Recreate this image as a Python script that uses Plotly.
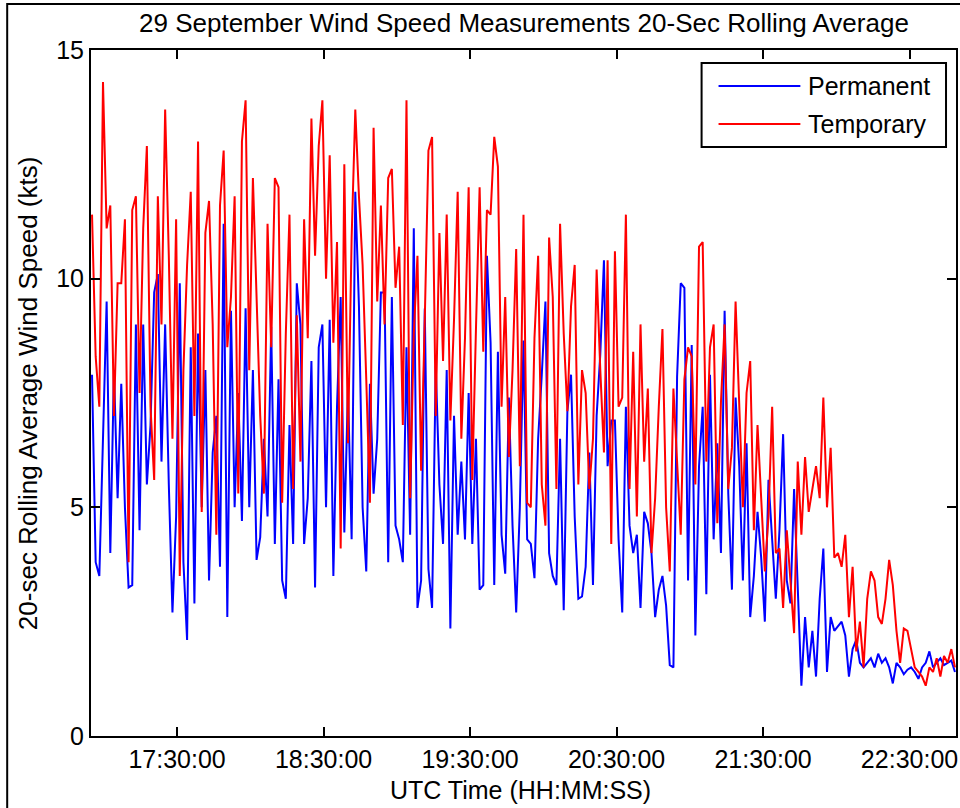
import pandas as pd
import plotly.graph_objects as go

# ---------------- data (kts) ----------------
t_first = "2000-09-29 16:55:10"
t_last = "2000-09-29 22:48:37"
x_range = ["2000-09-29 16:54:45", "2000-09-29 22:49:02"]

tick_times = ["2000-09-29 17:30:00", "2000-09-29 18:30:00", "2000-09-29 19:30:00",
              "2000-09-29 20:30:00", "2000-09-29 21:30:00", "2000-09-29 22:30:00"]
y_ticks = [0, 5, 10, 15]

temp_1 = [11.4, 8.3, 7.2, 14.3, 11.1, 11.6, 7.0, 9.9, 9.9, 11.3, 3.8, 11.5, 11.8, 7.5, 11.1,
          12.9, 7.2, 5.6, 11.8, 9.0, 13.7, 10.5, 6.5, 11.3, 3.5, 8.0, 10.3, 11.9, 7.0, 13.0,
          4.9, 11.0, 11.7, 9.0, 4.4, 11.6, 12.8, 8.5, 9.6, 11.8, 5.3]
perm_1 = [7.9, 3.8, 3.5, 6.5, 9.5, 4.0, 8.0, 5.2, 7.7, 5.0, 3.25, 3.3, 9.0, 4.5, 9.0,
          5.5, 6.8, 9.7, 10.1, 6.0, 9.0, 5.5, 2.7, 4.8, 9.9, 3.8, 2.1, 8.5, 2.9, 8.8,
          5.0, 8.0, 3.4, 6.2, 7.0, 3.7, 11.2, 2.6, 9.3, 5.0, 7.5]

temp_2 = [13.0, 13.9, 8.0, 12.2, 9.5, 7.0, 5.3, 11.2, 8.5, 12.2, 12.0, 5.1, 8.8, 11.4, 5.4,
          9.2, 6.0, 11.3, 8.7, 13.5, 10.5, 12.9, 13.9, 10.0, 12.7, 8.6, 10.8, 4.1, 12.5, 6.4,
          10.9, 13.7, 11.8, 10.3, 7.8, 5.1, 13.3, 9.5, 11.6]
perm_2 = [4.7, 9.35, 5.0, 8.0, 3.85, 4.35, 6.5, 4.8, 8.95, 4.2, 7.8, 3.4, 3.0, 6.8, 4.2,
          9.9, 9.0, 4.2, 5.2, 8.2, 3.25, 8.5, 9.0, 5.0, 9.1, 3.5, 7.2, 9.6, 4.45, 7.6,
          4.3, 11.9, 9.4, 5.0, 3.6, 7.7, 5.3, 6.5, 9.7]

temp_3 = [9.0, 12.2, 12.4, 9.8, 10.7, 6.8, 13.9, 5.2, 8.8, 10.5, 5.8, 9.1, 12.8, 13.1, 7.0,
          11.0, 8.2, 11.4, 6.9, 9.1, 11.9, 6.5, 8.7, 12.0, 5.6, 8.9, 12.0, 8.4, 11.5, 11.4,
          13.1, 12.45, 7.2, 9.6, 6.1, 8.0, 10.65, 5.9, 11.4, 5.1]
perm_3 = [9.7, 3.8, 9.6, 4.6, 4.3, 3.8, 8.5, 4.4, 11.1, 2.8, 3.4, 9.35, 3.65, 2.8, 8.1,
          5.5, 4.2, 8.0, 2.35, 7.0, 4.4, 6.0, 4.3, 7.5, 4.2, 6.5, 3.2, 3.3, 10.5, 8.6,
          3.3, 8.4, 4.4, 3.55, 7.4, 4.6, 2.7, 5.0, 8.65, 4.3]

temp_4 = [5.0, 8.7, 10.5, 5.5, 4.6, 10.9, 9.6, 5.4, 11.2, 8.8, 7.1, 9.4, 10.3, 5.5, 8.0,
          7.5, 5.4, 6.5, 10.2, 8.0, 6.2, 10.4, 4.2, 10.6, 7.2, 7.4, 11.4, 5.4, 8.4, 4.8,
          9.0, 6.0, 7.6, 4.0, 5.2, 7.2, 8.9, 5.0, 3.6]
perm_4 = [4.2, 3.45, 6.5, 7.9, 9.5, 4.0, 3.5, 3.3, 6.5, 2.75, 7.1, 7.9, 4.8, 3.0, 3.05,
          3.7, 6.2, 3.3, 7.0, 8.35, 10.4, 5.9, 6.9, 6.9, 4.3, 2.7, 7.2, 4.6, 4.0, 4.4,
          2.8, 4.9, 4.65, 4.0, 2.6, 3.2, 3.5, 2.85, 1.55]

temp_5 = [7.6, 6.0, 4.4, 7.8, 8.5, 8.3, 5.5, 10.7, 10.8, 6.0, 8.5, 9.0, 4.65, 7.3, 9.0,
          5.4, 6.3, 9.5, 7.0, 5.0, 7.5, 8.2, 4.5, 6.8, 5.2, 3.6, 4.8, 7.2, 4.0, 4.1,
          2.8, 4.5, 3.4, 2.25, 6.0, 4.4, 6.1, 4.9, 5.4, 5.9]
perm_5 = [1.5, 7.85, 9.9, 9.8, 3.4, 8.55, 2.2, 5.9, 7.2, 3.1, 7.9, 4.3, 6.4, 4.0, 9.3,
          5.3, 3.2, 7.4, 5.9, 3.4, 6.4, 2.6, 3.5, 4.9, 3.9, 2.5, 5.6, 4.3, 3.0, 4.5,
          6.6, 3.4, 2.9, 5.4, 3.4, 1.1, 2.6, 1.5, 2.3, 1.3]

temp_6 = [5.2, 7.4, 5.0, 6.3, 3.9, 4.0, 3.7, 4.4, 2.6, 3.7, 1.85, 2.5, 1.5, 3.0, 3.6,
          3.4, 2.6, 2.45, 3.0, 3.85, 3.3, 2.3, 1.6, 2.35, 2.3, 1.9, 1.5, 1.4, 1.3, 1.1,
          1.5, 1.4, 1.7, 1.3, 1.75, 1.6, 1.9, 1.5]
perm_6 = [3.0, 4.1, 1.4, 2.6, 2.3, 2.4, 2.5, 2.2, 1.3, 1.9, 2.1, 1.6, 1.5, 1.6, 1.7,
          1.5, 1.8, 1.6, 1.7, 1.5, 1.15, 1.6, 1.5, 1.35, 1.45, 1.5, 1.4, 1.25, 1.5, 1.6,
          1.85, 1.5, 1.6, 1.7, 1.55, 1.6, 1.65, 1.4]

permanent = perm_1 + perm_2 + perm_3 + perm_4 + perm_5 + perm_6
temporary = temp_1 + temp_2 + temp_3 + temp_4 + temp_5 + temp_6
times = pd.date_range(t_first, t_last, periods=len(permanent))

# ---------------- layout geometry ----------------
W, H = 960, 808
L, R, T, B = 91, 2, 50, 72
PW, PH = W - L - R, H - T - B


def px(x):
    return (x - L) / PW


def py(y):
    return (H - B - y) / PH


FONT = "Liberation Sans, Arial, Helvetica, sans-serif"
FS = 25
FS_BIG = 26

fig = go.Figure()
fig.add_trace(go.Scatter(x=times, y=permanent, mode="lines", name="Permanent",
                         line=dict(color="#0000FF", width=2)))
fig.add_trace(go.Scatter(x=times, y=temporary, mode="lines", name="Temporary",
                         line=dict(color="#FF0000", width=2)))

axis_common = dict(showline=True, linecolor="black", linewidth=2, mirror="ticks",
                   ticks="inside", ticklen=9, tickwidth=1.5, tickcolor="black",
                   showgrid=False, zeroline=False,
                   tickfont=dict(family=FONT, size=FS, color="black"))

fig.update_xaxes(type="date", range=x_range, tickvals=tick_times,
                 tickformat="%H:%M:%S", **axis_common)
fig.update_yaxes(range=[0, 15], tickvals=y_ticks, **axis_common)

shapes = [
    # outer figure frame
    dict(type="rect", xref="paper", yref="paper", x0=px(7), x1=px(968), y0=py(815), y1=py(4),
         line=dict(color="black", width=2), fillcolor="rgba(0,0,0,0)"),
    # legend box
    dict(type="rect", xref="paper", yref="paper", x0=px(703), x1=px(948), y0=py(147), y1=py(63),
         line=dict(color="black", width=2), fillcolor="white"),
    dict(type="line", xref="paper", yref="paper", x0=px(720), x1=px(802), y0=py(86), y1=py(86),
         line=dict(color="#0000FF", width=2)),
    dict(type="line", xref="paper", yref="paper", x0=px(720), x1=px(802), y0=py(124), y1=py(124),
         line=dict(color="#FF0000", width=2)),
]

annotations = [
    dict(text="Permanent", xref="paper", yref="paper", x=px(808), y=py(86),
         xanchor="left", yanchor="middle", showarrow=False,
         font=dict(family=FONT, size=FS, color="black")),
    dict(text="Temporary", xref="paper", yref="paper", x=px(808), y=py(124),
         xanchor="left", yanchor="middle", showarrow=False,
         font=dict(family=FONT, size=FS, color="black")),
    dict(text="29 September Wind Speed Measurements 20-Sec Rolling Average",
         xref="paper", yref="paper", x=px(525), y=py(23), xanchor="center", yanchor="middle",
         showarrow=False, font=dict(family=FONT, size=FS_BIG, color="black")),
    dict(text="UTC Time (HH:MM:SS)", xref="paper", yref="paper", x=px(521), y=py(790),
         xanchor="center", yanchor="middle", showarrow=False,
         font=dict(family=FONT, size=FS, color="black")),
    dict(text="20-sec Rolling Average Wind Speed (kts)", xref="paper", yref="paper",
         x=px(28), y=py(393), xanchor="center", yanchor="middle", textangle=-90,
         showarrow=False, font=dict(family=FONT, size=FS_BIG, color="black")),
]

fig.update_layout(width=W, height=H, margin=dict(l=L, r=R, t=T, b=B),
                  paper_bgcolor="white", plot_bgcolor="white", showlegend=False,
                  shapes=shapes, annotations=annotations,
                  font=dict(family=FONT, size=FS, color="black"))

fig.write_html("out.html")
